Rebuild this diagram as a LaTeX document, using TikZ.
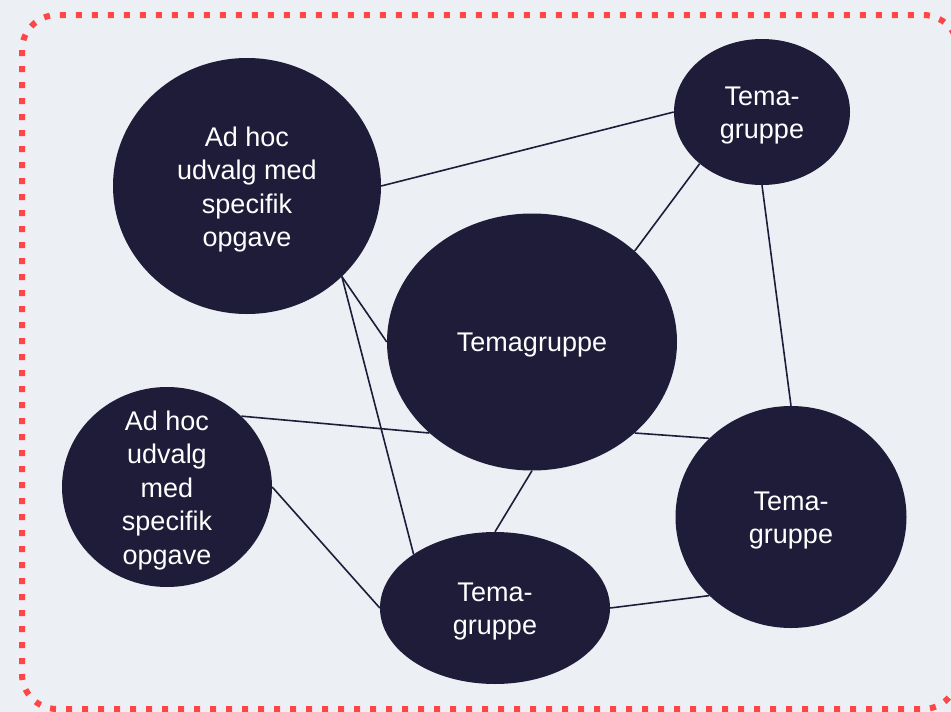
\documentclass[tikz,border=0pt]{standalone}
\usepackage{fontspec}
\setmainfont{Liberation Sans}
\usetikzlibrary{shapes.geometric}
\definecolor{navy}{RGB}{31,28,58}
\definecolor{paper}{RGB}{236,239,244}
\definecolor{frame}{RGB}{255,69,69}
\pgfdeclarelayer{paperlayer}
\pgfdeclarelayer{links}
\pgfsetlayers{paperlayer,links,main}
\tikzset{
  blob/.style={ellipse, fill=navy, draw=none, inner sep=0pt},
  blobtext/.style={text=white, align=center, inner sep=0pt, yshift=-3.5pt,
    font=\fontsize{27}{33.5}\selectfont},
  link/.style={draw=navy, line width=1.6pt},
  outerframe/.style={draw=frame, line width=6pt, rounded corners=35pt,
    dash pattern=on 6pt off 10pt}
}
\begin{document}
\begin{tikzpicture}[x=1pt, y=-1pt]
  \useasboundingbox (0,0) rectangle (951,712);

  \begin{pgfonlayer}{paperlayer}
    \fill[paper] (0,0) rectangle (951,712);
    \draw[outerframe] (22,15) rectangle (958,709);
  \end{pgfonlayer}

  % groups
  \node[blob, minimum width=268pt, minimum height=256pt] (adhocA) at (247,186) {};
  \node[blob, minimum width=176pt, minimum height=146pt] (temaTR) at (762,112) {};
  \node[blob, minimum width=290pt, minimum height=257pt] (temaC) at (532,342) {};
  \node[blob, minimum width=210pt, minimum height=200pt] (adhocB) at (167,487) {};
  \node[blob, minimum width=231pt, minimum height=222pt] (temaR) at (791,517) {};
  \node[blob, minimum width=230pt, minimum height=152pt] (temaB) at (495,608) {};

  % labels
  \node[blobtext] (tA) at (adhocA) {Ad hoc\\udvalg med\\specifik\\opgave};
  \node[blobtext] (tTR) at (temaTR) {Tema-\\gruppe};
  \node[blobtext] (tC) at (temaC) {Temagruppe};
  \node[blobtext] (tB) at (adhocB) {Ad hoc\\udvalg\\med\\specifik\\opgave};
  \node[blobtext] (tR) at (temaR) {Tema-\\gruppe};
  \node[blobtext] (tBo) at (temaB) {Tema-\\gruppe};

  % connections, drawn behind the groups
  \begin{pgfonlayer}{links}
    \draw[link] (adhocA.east) -- (temaTR.west);
    \draw[link] (temaTR.south west) -- (temaC.north east);
    \draw[link] (temaTR.south) -- (temaR.north);
    \draw[link] (adhocA.south east) -- (temaC.west);
    \draw[link] (adhocA.south east) -- (temaB.north west);
    \draw[link] (adhocB.north east) -- (temaC.south west);
    \draw[link] (temaC.south east) -- (temaR.north west);
    \draw[link] (adhocB.east) -- (temaB.west);
    \draw[link] (temaC.south) -- (temaB.north);
    \draw[link] (temaB.east) -- (temaR.south west);
  \end{pgfonlayer}
\end{tikzpicture}
\end{document}
